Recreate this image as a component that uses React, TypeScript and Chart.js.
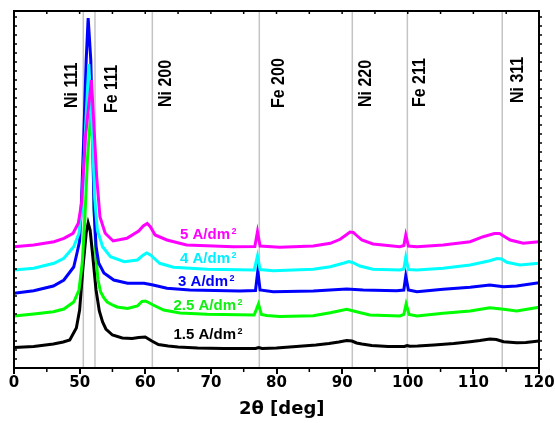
import React, { useEffect, useRef } from "react";
import { Chart, registerables } from "chart.js";

Chart.register(...registerables);

// ---- data ----
const xTickValues = [40, 50, 60, 70, 80, 90, 100, 110, 120];
const xTickLabels = ["0", "50", "60", "70", "80", "90", "100", "110", "120"];
const xAxisTitle = "2θ [deg]";

const peakPositions = [50.56, 52.34, 61.08, 77.38, 91.55, 99.94, 114.4];
const peakNames = ["Ni 111", "Fe 111", "Ni 200", "Fe 200", "Ni 220", "Fe 211", "Ni 311"];

const seriesNames = ["5 A/dm", "4 A/dm", "3 A/dm", "2.5 A/dm", "1.5 A/dm"];
const seriesColors = ["#ff00ff", "#00ffff", "#0000ff", "#00ff00", "#000000"];
const labelColors = ["#ff00ff", "#00eeff", "#0000ff", "#11ee11", "#000000"];

const black15: [number, number][] = [
  [40, 20.5], [43, 21.5], [46, 24], [47.5, 26], [48.5, 28], [49.5, 40], [50, 58], [50.5, 100], [51, 135], [51.3, 145],
  [51.6, 138], [52, 112], [52.5, 78], [53, 57], [53.5, 46], [54, 39], [55, 33], [56.5, 30], [58, 29.5], [59, 30.5],
  [60, 31], [61, 27], [62, 23.5], [63.5, 22], [65, 21], [68, 20], [72, 19.5], [76.8, 19.5], [77.3, 20.5], [77.8, 19.5],
  [80, 20], [83, 21.5], [86, 23], [88, 24.5], [89.5, 26], [90.7, 27.5], [91.5, 27], [92.2, 25], [93, 24], [94.5, 22.5],
  [97, 21.5], [99.5, 21.5], [99.9, 22.5], [100.3, 21.8], [101.5, 22], [104, 23], [107, 24.5], [109.5, 26.3], [111, 27.5], [112.5, 29],
  [113.5, 28.5], [114.6, 26.3], [116.6, 25.3], [118, 25.5], [120, 27],
];

const green25: [number, number][] = [
  [40, 52], [43, 54], [46, 56.3], [47.6, 59], [49.1, 66], [49.9, 78], [50.4, 105], [50.8, 150], [51.2, 210], [51.7, 255],
  [52.0, 225], [52.2, 160], [52.5, 110], [52.8, 88], [53.2, 76], [53.7, 70], [54.2, 66], [55, 63], [55.7, 61], [57.3, 59.5],
  [58.8, 62], [59.5, 66.5], [60, 67], [60.5, 65.5], [61.2, 63], [62.8, 58], [65.3, 55], [69.4, 53.7], [76.6, 53], [77.25, 64],
  [77.7, 53.5], [78.5, 52.5], [80.5, 51.5], [85.6, 52.3], [88.2, 55.3], [90.7, 58.7], [92.2, 56.3], [94.2, 53], [98.8, 52], [99.4, 53.5],
  [99.75, 64], [100.2, 53.5], [101.4, 52], [105.4, 54.7], [109.5, 57], [112.5, 60.3], [114.6, 58.7], [116.6, 57], [120, 60.7],
];

const blue3: [number, number][] = [
  [40, 74.7], [43, 77.3], [46, 82], [47.6, 88], [49.1, 101], [49.6, 115], [50.0, 127], [50.3, 170], [50.6, 225], [51.0, 308],
  [51.3, 350], [51.7, 308], [52.0, 225], [52.2, 158], [52.5, 122], [52.9, 105], [53.7, 95], [55.2, 88], [57.3, 84.7], [59.8, 84.7],
  [61.2, 83], [63.3, 79.7], [66.8, 78], [74.4, 77], [76.8, 77.5], [77.15, 97], [77.5, 78], [79.5, 76.3], [85.6, 77], [90.7, 79],
  [93.2, 78], [98.3, 77.3], [99.4, 78], [99.7, 92], [100.1, 78], [101.4, 76.3], [105.4, 78.7], [109.5, 80.7], [112.5, 83], [114.6, 81.3],
  [116.6, 82], [120, 85.3],
];

const cyan4: [number, number][] = [
  [40, 98], [43, 99.7], [46.1, 104.7], [47.6, 109.7], [49.1, 121.3], [49.9, 134.7], [50.4, 165], [50.9, 240], [51.4, 304], [51.9, 240],
  [52.3, 170], [52.7, 138], [53.5, 121.3], [54.7, 111.3], [56.8, 106.3], [58.8, 108], [59.6, 112.5], [60.2, 115], [60.8, 113], [61.3, 110],
  [62.2, 104.7], [64.3, 100.7], [69.4, 98.7], [76.6, 98], [77.1, 112], [77.5, 98.5], [79.5, 97.3], [85.6, 98.7], [88.2, 101.3], [90.3, 105],
  [91.0, 106.5], [91.6, 105.5], [92.7, 102], [94.7, 98.7], [98.8, 98], [99.4, 99], [99.7, 110.7], [100.1, 98.5], [101.4, 98], [105.4, 99.7],
  [109.5, 103], [112.5, 107.3], [113.6, 109.5], [114.3, 109], [115.1, 105.7], [117.1, 103], [120, 104.7],
];

const magenta5: [number, number][] = [
  [40, 121.3], [43, 123], [46.1, 126.3], [47.6, 129.7], [49, 134.7], [49.8, 144.7], [50.3, 165], [50.9, 232], [51.8, 288], [52.6, 191],
  [53.1, 151], [53.9, 134.7], [55.1, 127], [57.2, 129.7], [59.0, 137], [59.7, 142], [60.3, 144.5], [60.8, 141], [61.5, 133], [63.3, 128],
  [66.3, 123], [73.4, 121.3], [76.7, 121.5], [77.1, 136.3], [77.5, 122], [80.5, 120.7], [85.6, 122], [88.2, 124.7], [89.7, 128.7], [90.7, 133.5],
  [91.2, 136], [91.7, 135.5], [92.3, 132], [93, 128], [94.7, 124], [98.8, 121.3], [99.4, 122.5], [99.7, 133], [100.1, 122], [101.4, 121.3],
  [105.4, 123], [109.5, 126.3], [111.5, 131.3], [113.2, 134.5], [114.0, 134.5], [114.6, 132], [115.6, 128], [117.6, 124.7], [120, 126.3],
];

const seriesData = [magenta5, cyan4, blue3, green25, black15];

// ---- layout (annotation placement, not data) ----
const peakLabelDx = [-11.5, 16.7, 13.7, 19.7, 13.7, 12.7, 15.7]; // px from line
const peakLabelBottom = [260, 255, 261, 260, 261, 261, 265]; // y value where text starts
const seriesLabelX = [65.3, 65.3, 65.0, 64.3, 64.3];
const seriesLabelY = [134, 110.5, 87, 63, 34];
const titleCenterX = 80.8;

const Y_MAX = 357;
const FONT = "'Liberation Sans', Arial, sans-serif";
const TICK_FONT = "'DejaVu Sans', sans-serif";

const decorPlugin = {
  id: "decor",
  beforeDatasetsDraw(chart: any) {
    const { ctx, chartArea, scales } = chart;
    const xs = scales.x;
    ctx.save();
    ctx.strokeStyle = "#c4c4c4";
    ctx.lineWidth = 1.5;
    peakPositions.forEach((p) => {
      const px = xs.getPixelForValue(p);
      ctx.beginPath();
      ctx.moveTo(px, chartArea.top);
      ctx.lineTo(px, chartArea.bottom);
      ctx.stroke();
    });
    ctx.restore();
  },
  afterDatasetsDraw(chart: any) {
    const { ctx, chartArea, scales } = chart;
    const xs = scales.x;
    const ys = scales.y;
    ctx.save();
    // peak labels (rotated)
    ctx.fillStyle = "#000";
    ctx.font = `bold 16px ${FONT}`;
    ctx.textAlign = "left";
    ctx.textBaseline = "middle";
    peakNames.forEach((name, i) => {
      const px = xs.getPixelForValue(peakPositions[i]) + peakLabelDx[i];
      const py = ys.getPixelForValue(peakLabelBottom[i]);
      ctx.save();
      ctx.translate(px, py);
      ctx.scale(1.15, 1);
      ctx.rotate(-Math.PI / 2);
      ctx.fillText(name, 0, 0);
      ctx.restore();
    });
    // series labels
    seriesNames.forEach((name, i) => {
      const px = xs.getPixelForValue(seriesLabelX[i]);
      const cy = ys.getPixelForValue(seriesLabelY[i]);
      const size = 15;
      const cap = size * 0.716;
      const base = cy + cap / 2;
      ctx.fillStyle = labelColors[i];
      ctx.textBaseline = "alphabetic";
      ctx.textAlign = "left";
      ctx.font = `bold ${size}px ${FONT}`;
      ctx.fillText(name, px, base);
      const w = ctx.measureText(name).width;
      ctx.font = `bold 9px ${FONT}`;
      ctx.fillText("2", px + w + 1.5, base - cap + 5.8);
    });
    // axis title
    ctx.fillStyle = "#000";
    ctx.font = `bold 18px ${TICK_FONT}`;
    ctx.textAlign = "center";
    ctx.textBaseline = "middle";
    ctx.fillText(xAxisTitle, xs.getPixelForValue(titleCenterX), chartArea.bottom + 41);
    ctx.restore();

    // frame and ticks
    ctx.save();
    ctx.strokeStyle = "#000";
    ctx.lineWidth = 2;
    ctx.strokeRect(chartArea.left, chartArea.top, chartArea.right - chartArea.left, chartArea.bottom - chartArea.top);
    ctx.lineWidth = 1.5;
    ctx.beginPath();
    for (let v = 45; v < 120; v += 10) {
      const px = xs.getPixelForValue(v);
      ctx.moveTo(px, chartArea.bottom);
      ctx.lineTo(px, chartArea.bottom + 4);
    }
    for (let v = 45; v < 120; v += 5) {
      const px = xs.getPixelForValue(v);
      ctx.moveTo(px, chartArea.top);
      ctx.lineTo(px, chartArea.top + 3);
    }
    for (let v = 9; v < Y_MAX; v += 9) {
      const py = ys.getPixelForValue(v);
      ctx.moveTo(chartArea.left, py);
      ctx.lineTo(chartArea.left + 3, py);
      ctx.moveTo(chartArea.right, py);
      ctx.lineTo(chartArea.right + 3, py);
    }
    ctx.stroke();
    ctx.restore();
  },
};

export default function App() {
  const ref = useRef<HTMLCanvasElement | null>(null);
  useEffect(() => {
    if (!ref.current) return;
    const chart = new Chart(ref.current, {
      type: "line",
      data: {
        datasets: seriesData.map((d, i) => ({
          label: seriesNames[i],
          data: d.map(([x, y]) => ({ x, y })),
          borderColor: seriesColors[i],
          backgroundColor: seriesColors[i],
          borderWidth: 3,
          pointRadius: 0,
          tension: 0,
          fill: false,
        })),
      },
      options: {
        responsive: false,
        animation: false,
        events: [],
        layout: { padding: { left: 14, right: 16, top: 11, bottom: 0 } },
        plugins: { legend: { display: false }, tooltip: { enabled: false } },
        scales: {
          x: {
            type: "linear",
            min: 40,
            max: 120,
            afterFit: (s: any) => {
              s.height = 55;
            },
            afterBuildTicks: (s: any) => {
              s.ticks = xTickValues.map((v) => ({ value: v }));
            },
            border: { display: true, color: "#000", width: 2 },
            grid: { display: true, drawOnChartArea: false, drawTicks: true, tickLength: 6, color: "#000", lineWidth: 2 },
            ticks: {
              autoSkip: false,
              maxRotation: 0,
              color: "#000",
              padding: 0,
              font: { family: TICK_FONT, weight: "bold", size: 15 },
              callback: (v: any) => {
                const idx = xTickValues.indexOf(Number(v));
                return idx >= 0 ? xTickLabels[idx] : "";
              },
            },
            title: { display: false },
          },
          y: { display: false, min: 0, max: Y_MAX },
        },
      },
      plugins: [decorPlugin],
    } as any);
    return () => chart.destroy();
  }, []);
  return (
    <div style={{ position: "fixed", left: 0, top: 0, width: 555, height: 423, background: "#fff" }}>
      <canvas ref={ref} width={555} height={423} />
    </div>
  );
}
